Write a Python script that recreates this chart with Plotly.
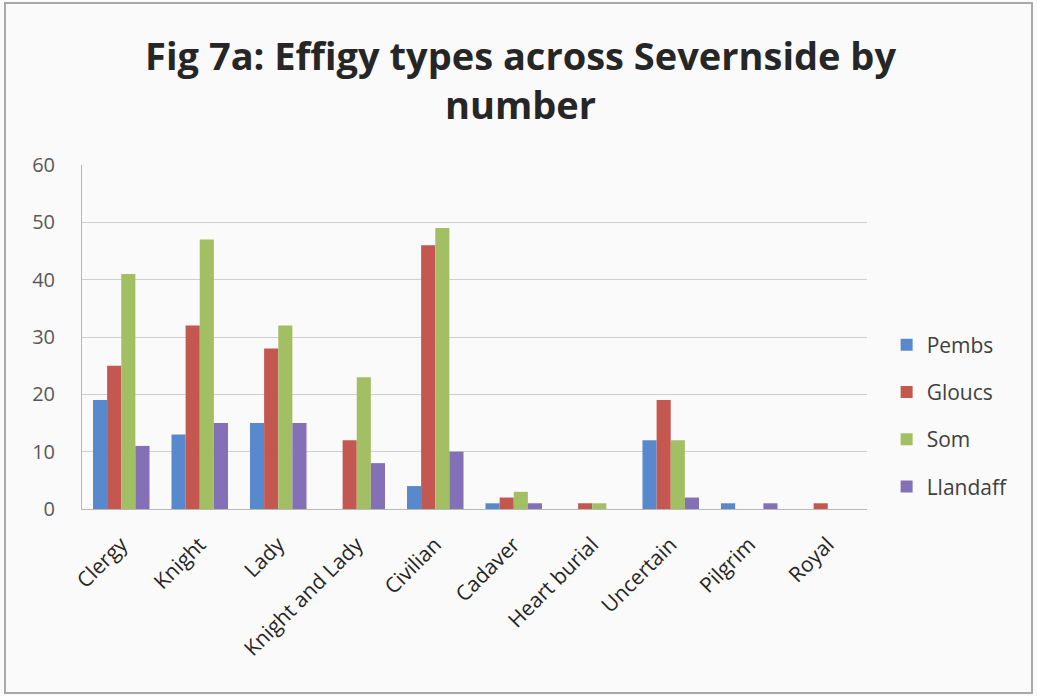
import plotly.graph_objects as go

# Effigy counts by type for each Severnside region
categories = ["Clergy", "Knight", "Lady", "Knight and Lady", "Civilian",
              "Cadaver", "Heart burial", "Uncertain", "Pilgrim", "Royal"]
pembs = [19, 13, 15, 0, 4, 1, 0, 12, 1, 0]
gloucs = [25, 32, 28, 12, 46, 2, 1, 19, 0, 1]
som = [41, 47, 32, 23, 49, 3, 1, 12, 0, 0]
llandaff = [11, 15, 15, 8, 10, 1, 0, 2, 1, 0]
y_ticks = [0, 10, 20, 30, 40, 50, 60]

series = [
    ("Pembs", pembs, "#5889cc"),
    ("Gloucs", gloucs, "#c4574f"),
    ("Som", som, "#a3bf63"),
    ("Llandaff", llandaff, "#8370b6"),
]

fig = go.Figure()
for name, vals, col in series:
    fig.add_trace(go.Bar(x=categories, y=vals, name=name, legendgroup=name,
                         marker=dict(color=col, line=dict(width=0))))

font_family = "Open Sans, Lato, sans-serif"

fig.update_layout(
    width=1037, height=696,
    margin=dict(l=82, r=170, t=165, b=187),
    paper_bgcolor="#fafafa",
    plot_bgcolor="#fafafa",
    barmode="group",
    bargap=0.28,
    bargroupgap=0,
    font=dict(family=font_family, color="#404040"),
    title=dict(
        text="<b>Fig 7a: Effigy types across Severnside by<br>number</b>",
        x=0.502, xref="container", xanchor="center",
        y=1 - 70 / 696, yref="container", yanchor="middle",
        font=dict(size=38, color="#262626", family="Open Sans, sans-serif"),
    ),
    legend=dict(
        x=1.025, xanchor="left", y=(509 - 416) / 344, yanchor="middle",
        font=dict(size=21, color="#404040"),
        itemsizing="constant",
        tracegroupgap=17,
        bgcolor="rgba(0,0,0,0)",
    ),
    xaxis=dict(
        tickangle=-45,
        tickfont=dict(size=21, color="#262626"),
        showline=True, linecolor="#b8b8b8", linewidth=1,
        ticks="", ticklabelstandoff=14,
    ),
    yaxis=dict(
        range=[0, 60], tickvals=y_ticks,
        tickfont=dict(size=20, color="#595959"),
        showgrid=True, gridcolor="#cfcfcf", gridwidth=1,
        showline=True, linecolor="#b8b8b8", linewidth=1,
        zeroline=False, ticks="", ticklabelstandoff=22,
    ),
    shapes=[
        dict(type="rect", xref="paper", yref="paper",
             x0=-77 / 785, x1=1 + 165 / 785,
             y0=-184 / 344, y1=1 + 162 / 344,
             line=dict(color="#a8a8a8", width=2), layer="below"),
    ],
)

fig.write_html("out.html")
